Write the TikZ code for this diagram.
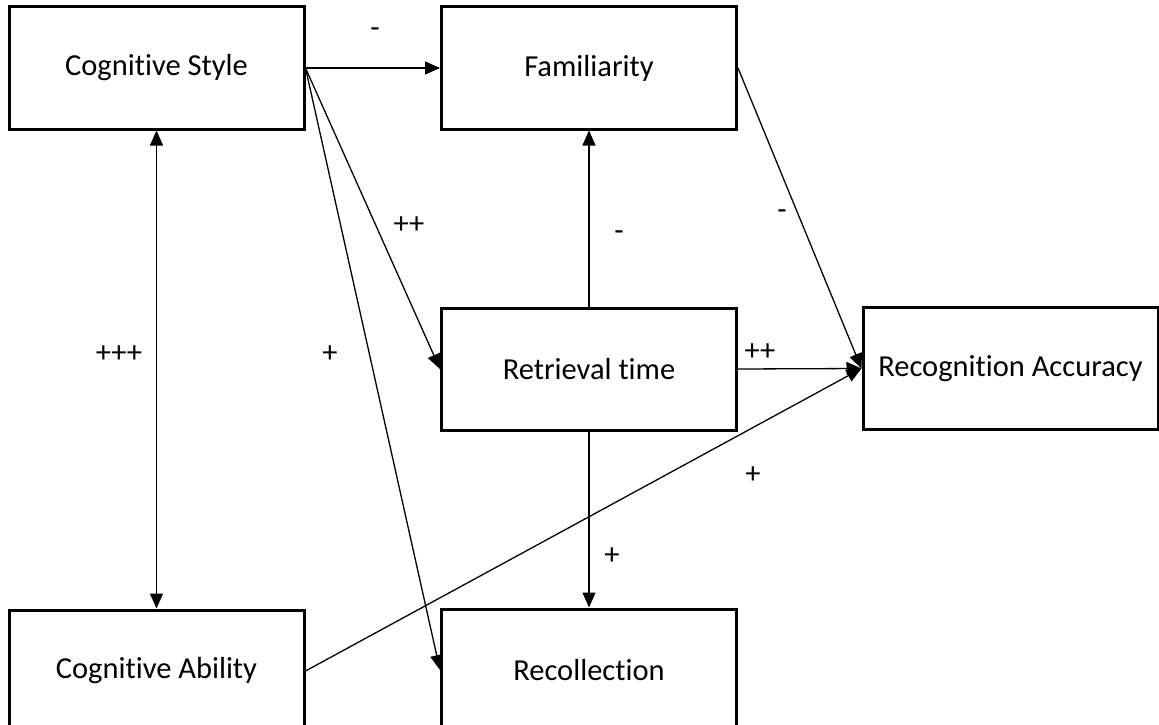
\documentclass[tikz,border=0pt]{standalone}
\usepackage{fontspec}
\setmainfont[Ligatures={NoCommon}]{Carlito}
\usetikzlibrary{arrows.meta}
\begin{document}
\begin{tikzpicture}[x=1pt,y=-1pt,
  box/.style={draw=black,line width=3pt,rectangle,minimum width=295pt,minimum height=122pt,inner sep=0pt,font=\fontsize{30.5}{34}\selectfont},
  conn/.style={line width=1.3pt,-{Triangle[length=15pt,width=13pt]}},
  lbl/.style={font=\fontsize{30.5}{34}\selectfont,inner sep=0pt}]
\useasboundingbox (0,0) rectangle (1159,725);
\node[box] (cs) at (156.5,68) {Cognitive Style};
\node[box] (fam) at (589,68) {Familiarity};
\node[box] (ret) at (589,369) {Retrieval time};
\node[box] (ra) at (1010.5,368.5) {Recognition Accuracy};
\node[box] (ca) at (156.5,671) {Cognitive Ability};
\node[box] (rc) at (589,670) {Recollection};
\draw[conn] (cs.east) -- (fam.west);
\draw[conn] (cs.east) -- (ret.west);
\draw[conn] (cs.east) -- (rc.west);
\draw[line width=1.3pt,{Triangle[length=15pt,width=13pt]}-{Triangle[length=15pt,width=13pt]}] (cs.south) -- (ca.north);
\draw[conn] (ret.north) -- (fam.south);
\draw[conn] (fam.east) -- (ra.west);
\draw[conn] (ret.east) -- (ra.west);
\draw[conn] (ca.east) -- (ra.west);
\draw[conn] (ret.south) -- (rc.north);
\node[lbl] (l1) at (375,33) {-};
\node[lbl] (l2) at (409,225) {++};
\node[lbl] (l3) at (330,354) {+};
\node[lbl] (l4) at (119,354) {+++};
\node[lbl] (l5) at (619,236) {-};
\node[lbl] (l6) at (782,215) {-};
\node[lbl] (l7) at (760,352) {++};
\node[lbl] (l8) at (753,475) {+};
\node[lbl] (l9) at (612,556) {+};
\end{tikzpicture}
\end{document}
